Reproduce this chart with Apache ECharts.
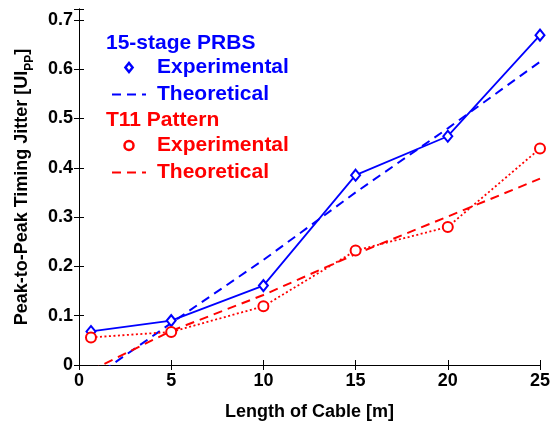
<!DOCTYPE html>
<html>
<head>
<meta charset="utf-8">
<script src="https://cdn.jsdelivr.net/npm/echarts@6/dist/echarts.min.js"></script>
<style>
  html, body { margin: 0; padding: 0; background: #fff; }
  #chart { width: 558px; height: 426px; }
</style>
</head>
<body>
<div id="chart"></div>
<script>
// cable length [m] and peak-to-peak jitter [UIpp]
const cableLength = [0.65, 5, 10, 15, 20, 25];
const prbsExp    = [0.068, 0.090, 0.161, 0.385, 0.464, 0.669];
const prbsTheory = [-0.029, 0.085, 0.213, 0.350, 0.480, 0.615];
const t11Exp     = [0.056, 0.067, 0.119, 0.232, 0.280, 0.439];
const t11Theory  = [-0.011, 0.069, 0.142, 0.225, 0.301, 0.378];
const xTicks = [0, 5, 10, 15, 20, 25];
const yTicks = [0, 0.1, 0.2, 0.3, 0.4, 0.5, 0.6, 0.7];

const BLUE = '#0000ff';
const RED = '#ff0000';
const FONT = 'Liberation Sans, Arial, sans-serif';

function pairs(ys) {
  return cableLength.map((x, i) => [x, ys[i]]);
}

const tickLabel = { fontFamily: FONT, fontWeight: 'bold', fontSize: 18, color: '#000' };

function legendFor(color, top, names, icon) {
  return {
    orient: 'vertical', left: 111, top: top, padding: 0,
    itemWidth: 34, itemHeight: 9, itemGap: 6, symbolKeepAspect: true,
    textStyle: { fontFamily: FONT, fontWeight: 'bold', fontSize: 21, color: color, lineHeight: 20, padding: [0, 0, 0, 6] },
    formatter: n => n.split(' ')[1],
    data: [
      { name: names[0], icon: icon, itemStyle: { color: '#fff', borderColor: color, borderWidth: 2.5 } },
      { name: names[1], itemStyle: { opacity: 0 } }
    ]
  };
}

const chart = echarts.init(document.getElementById('chart'));
const option = {
  animation: false,
  grid: { left: 79, right: 18, top: 9, bottom: 52 },
  xAxis: [{
    type: 'value', min: 0, max: 25, interval: 5,
    name: 'Length of Cable [m]', nameLocation: 'middle', nameGap: 38,
    nameTextStyle: { fontFamily: FONT, fontWeight: 'bold', fontSize: 18, color: '#000' },
    axisLine: { lineStyle: { color: '#000', width: 1 } },
    axisTick: { inside: true, length: 5, lineStyle: { color: '#000' } },
    axisLabel: Object.assign({ margin: 7, formatter: v => xTicks.includes(v) ? String(v) : '' }, tickLabel),
    splitLine: { show: false }
  }, {
    type: 'value', position: 'top', min: 0, max: 25, interval: 5,
    axisLine: { lineStyle: { color: '#000', width: 1 } },
    axisTick: { inside: true, length: 5, lineStyle: { color: '#000' } },
    axisLabel: { show: false },
    splitLine: { show: false }
  }],
  yAxis: [{
    type: 'value', min: 0, max: 0.722, interval: 0.1,
    name: '{a|Peak-to-Peak Timing Jitter [UI}{b|PP}{a|]}',
    nameLocation: 'middle', nameGap: 46,
    nameTextStyle: {
      rich: {
        a: { fontFamily: FONT, fontWeight: 'bold', fontSize: 18, color: '#000', lineHeight: 22 },
        b: { fontFamily: FONT, fontWeight: 'bold', fontSize: 12, color: '#000', lineHeight: 22, verticalAlign: 'bottom', padding: [0, 0, -3, 0] }
      }
    },
    axisLine: { lineStyle: { color: '#000', width: 1 } },
    axisTick: { inside: true, length: 5, lineStyle: { color: '#000' } },
    axisLabel: Object.assign({
      margin: 6,
      formatter: v => {
        const t = yTicks.find(k => Math.abs(k - v) < 1e-6);
        return t === undefined ? '' : (t === 0 ? '0' : String(t));
      }
    }, tickLabel),
    splitLine: { show: false }
  }, {
    type: 'value', position: 'right', min: 0, max: 0.722, interval: 0.1,
    axisLine: { lineStyle: { color: '#000', width: 1 } },
    axisTick: { inside: true, length: 5, lineStyle: { color: '#000' } },
    axisLabel: { show: false },
    splitLine: { show: false }
  }],
  graphic: [
    { type: 'text', left: 106, top: 33, style: { text: '15-stage PRBS', fill: BLUE, font: 'bold 21px ' + FONT } },
    { type: 'text', left: 106, top: 110, style: { text: 'T11 Pattern', fill: RED, font: 'bold 21px ' + FONT } }
  ],
  legend: [
    legendFor(BLUE, 57, ['PRBS Experimental', 'PRBS Theoretical'], 'path://M4,0L8,5L4,10L0,5Z'),
    legendFor(RED, 135, ['T11 Experimental', 'T11 Theoretical'], 'circle')
  ],
  series: [{
    name: 'PRBS Experimental', type: 'line', data: pairs(prbsExp),
    symbol: 'emptyDiamond', symbolSize: [9, 11],
    lineStyle: { color: BLUE, width: 1.8 },
    itemStyle: { color: BLUE, borderWidth: 2.5 }
  }, {
    name: 'PRBS Theoretical', type: 'line', data: pairs(prbsTheory),
    symbol: 'none',
    lineStyle: { color: BLUE, width: 2, type: [9, 6] },
    itemStyle: { color: BLUE }
  }, {
    name: 'T11 Experimental', type: 'line', data: pairs(t11Exp),
    symbol: 'emptyCircle', symbolSize: 10,
    lineStyle: { color: RED, width: 1.8, type: [2, 2.5] },
    itemStyle: { color: RED, borderWidth: 2.5 }
  }, {
    name: 'T11 Theoretical', type: 'line', data: pairs(t11Theory),
    symbol: 'none',
    lineStyle: { color: RED, width: 2, type: [9, 6] },
    itemStyle: { color: RED }
  }]
};
chart.setOption(option);
</script>
</body>
</html>
